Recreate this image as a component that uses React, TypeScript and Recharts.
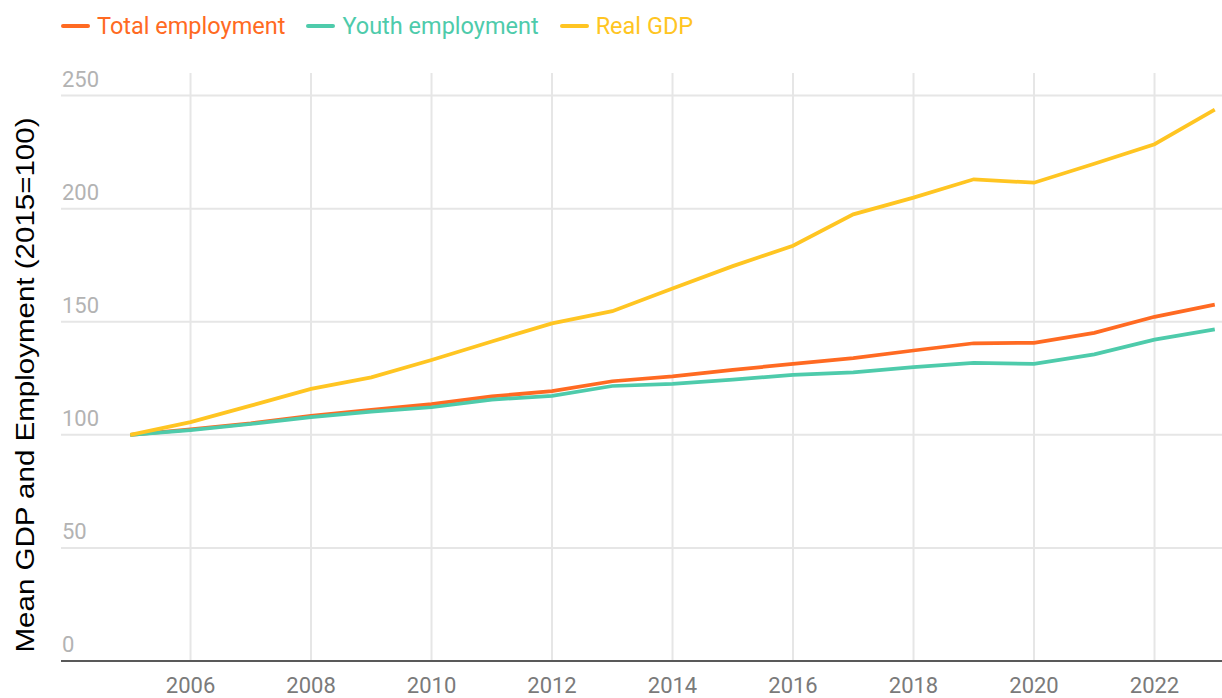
import React from "react"
import { CartesianGrid, Line, LineChart, XAxis, YAxis } from "recharts"

const years = [2005, 2006, 2007, 2008, 2009, 2010, 2011, 2012, 2013, 2014, 2015, 2016, 2017, 2018, 2019, 2020, 2021, 2022, 2023]
const totalEmployment = [100, 102.4, 105.1, 108.4, 111, 113.6, 117, 119.3, 123.7, 125.9, 128.7, 131.4, 133.9, 137.3, 140.5, 140.7, 145.1, 152.2, 157.6]
const youthEmployment = [100, 102.1, 104.8, 107.8, 110.3, 112.2, 115.6, 117.2, 121.6, 122.5, 124.4, 126.5, 127.6, 129.9, 131.8, 131.4, 135.6, 142.1, 146.6]
const realGdp = [100, 105.6, 112.9, 120.3, 125.4, 133.1, 141.3, 149.3, 154.7, 164.7, 174.6, 183.6, 197.5, 204.9, 213, 211.5, 219.9, 228.5, 243.8]

const xTicks = [2006, 2008, 2010, 2012, 2014, 2016, 2018, 2020, 2022]
const yTicks = [0, 50, 100, 150, 200, 250]
const xDomain = [2003.85, 2023.12]
const yDomain = [0, 260]

const series = [
  { key: "total", name: "Total employment", color: "#ff6a22" },
  { key: "youth", name: "Youth employment", color: "#4ecbab" },
  { key: "gdp", name: "Real GDP", color: "#ffc522" },
]

const data = years.map((year, i) => ({
  year,
  total: totalEmployment[i],
  youth: youthEmployment[i],
  gdp: realGdp[i],
}))

const FONT = "Roboto, 'Noto Sans', sans-serif"

function YTick(props: any) {
  const { y, payload } = props
  return (
    <text x={62} y={y - 9} fill="#b3b3b3" fontSize={22} fontFamily={FONT} textAnchor="start">
      {payload.value}
    </text>
  )
}

function YLabel() {
  return (
    <text
      x={34}
      y={385}
      transform="rotate(-90, 34, 385)"
      textAnchor="middle"
      fontSize={25}
      fontFamily="'Liberation Sans', Arial, sans-serif"
      fill="#000"
      textLength={535}
      lengthAdjust="spacingAndGlyphs"
    >
      Mean GDP and Employment (2015=100)
    </text>
  )
}

// grid lines only at the tick values, not on the plot edges
const hGrid = ({ offset }: any) =>
  yTicks.map((t) => offset.top + offset.height * (1 - (t - yDomain[0]) / (yDomain[1] - yDomain[0])))
const vGrid = ({ offset }: any) =>
  xTicks.map((t) => offset.left + (offset.width * (t - xDomain[0])) / (xDomain[1] - xDomain[0]))

export default function App() {
  return (
    <div style={{ position: "absolute", left: 0, top: 0, width: 1222, height: 698, background: "#fff" }}>
      <div
        style={{
          position: "absolute",
          left: 61,
          top: 12,
          display: "flex",
          alignItems: "center",
          fontFamily: FONT,
          fontSize: 23.5,
          lineHeight: "28px",
          zIndex: 2,
        }}
      >
        {series.map((s) => (
          <div key={s.key} style={{ display: "flex", alignItems: "center", marginRight: 21 }}>
            <span
              style={{ display: "inline-block", width: 29, height: 4, borderRadius: 2, background: s.color, marginRight: 7 }}
            />
            <span style={{ color: s.color }}>{s.name}</span>
          </div>
        ))}
      </div>
      <LineChart width={1222} height={698} data={data} margin={{ top: 73, right: 0, left: 0, bottom: 0 }}>
        <CartesianGrid
          stroke="#e6e6e6"
          strokeWidth={2}
          horizontalCoordinatesGenerator={hGrid}
          verticalCoordinatesGenerator={vGrid}
        />
        <XAxis
          dataKey="year"
          type="number"
          domain={xDomain}
          ticks={xTicks}
          allowDataOverflow
          height={37}
          tickLine={false}
          tickSize={0}
          tickMargin={16}
          axisLine={{ stroke: "#2a2a2a", strokeWidth: 1.5 }}
          tick={{ fill: "#7a7a7a", fontSize: 22, fontFamily: FONT }}
        />
        <YAxis
          type="number"
          domain={yDomain}
          ticks={yTicks}
          width={61}
          axisLine={false}
          tickLine={false}
          tick={<YTick />}
          label={{ content: () => <YLabel /> }}
        />
        {series.map((s) => (
          <Line
            key={s.key}
            dataKey={s.key}
            name={s.name}
            type="linear"
            stroke={s.color}
            strokeWidth={3.75}
            dot={false}
            isAnimationActive={false}
          />
        ))}
      </LineChart>
    </div>
  )
}
